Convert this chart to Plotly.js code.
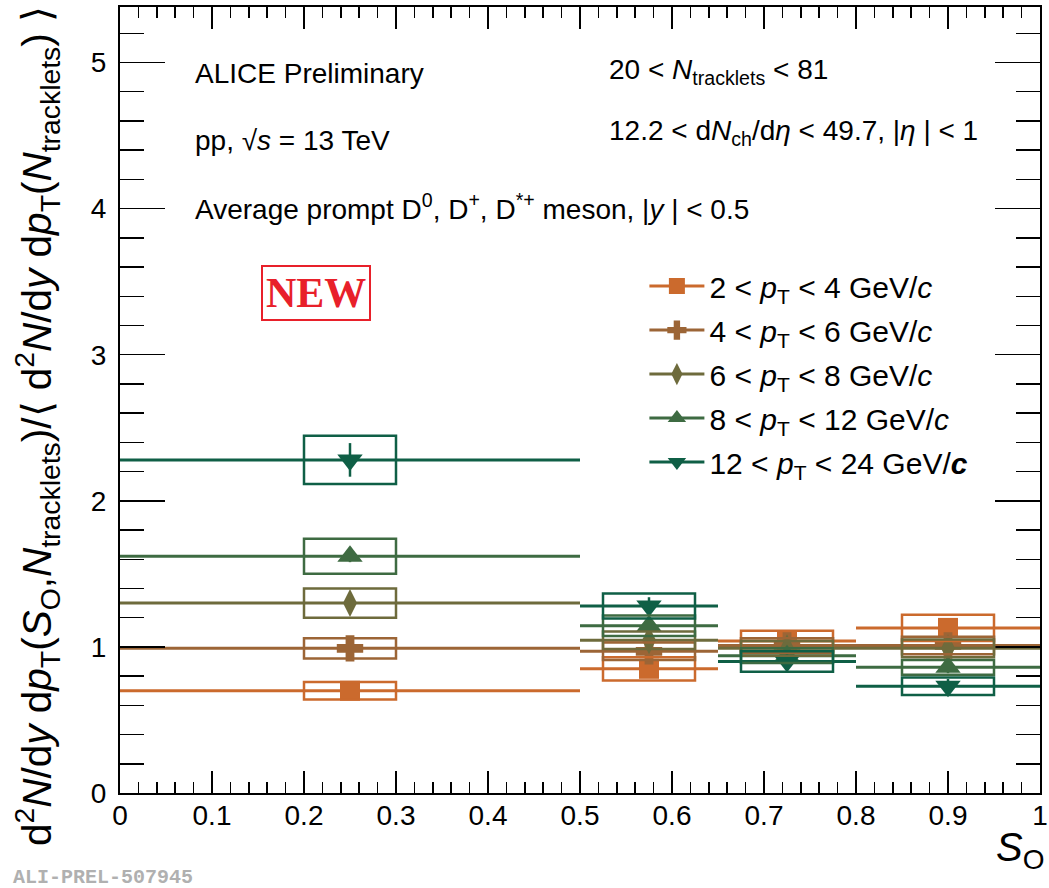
<!DOCTYPE html>
<html>
<head>
<meta charset="utf-8">
<script src="https://cdn.plot.ly/plotly-3.0.1.min.js"></script>
<style>html,body{margin:0;padding:0;background:#fff;}#chart{width:1049px;height:888px;}</style>
</head>
<body>
<div id="chart"></div>
<script>
// S_O bin centres and half widths
const soCentres = [0.25, 0.575, 0.725, 0.9];
const soHalfWidths = [0.25, 0.075, 0.075, 0.1];

// pT interval labels
const seriesNames = [
  "2 &lt; <i>p</i><sub>T</sub> &lt; 4 GeV/<i>c</i>",
  "4 &lt; <i>p</i><sub>T</sub> &lt; 6 GeV/<i>c</i>",
  "6 &lt; <i>p</i><sub>T</sub> &lt; 8 GeV/<i>c</i>",
  "8 &lt; <i>p</i><sub>T</sub> &lt; 12 GeV/<i>c</i>",
  "12 &lt; <i>p</i><sub>T</sub> &lt; 24 GeV/<b><i>c</i></b>"
];

// ratio values per pT interval
const pt2to4   = [0.70, 0.85, 1.04, 1.13];
const pt4to6   = [0.99, 0.97, 1.01, 1.01];
const pt6to8   = [1.30, 1.045, 0.99, 0.99];
const pt8to12  = [1.62, 1.145, 0.94, 0.86];
const pt12to24 = [2.28, 1.28, 0.90, 0.73];

// statistical uncertainties
const stat2to4   = [0.02, 0.02, 0.02, 0.03];
const stat4to6   = [0.02, 0.02, 0.02, 0.03];
const stat6to8   = [0.03, 0.03, 0.02, 0.03];
const stat8to12  = [0.04, 0.04, 0.03, 0.04];
const stat12to24 = [0.115, 0.06, 0.05, 0.05];

// systematic uncertainties
const sys2to4   = [0.06, 0.08, 0.07, 0.09];
const sys4to6   = [0.07, 0.06, 0.05, 0.06];
const sys6to8   = [0.10, 0.06, 0.05, 0.06];
const sys8to12  = [0.12, 0.07, 0.05, 0.05];
const sys12to24 = [0.165, 0.085, 0.07, 0.06];

const values = [pt2to4, pt4to6, pt6to8, pt8to12, pt12to24];
const stats = [stat2to4, stat4to6, stat6to8, stat8to12, stat12to24];
const syss = [sys2to4, sys4to6, sys6to8, sys8to12, sys12to24];

const colors = ["#cb6a2d", "#9c6536", "#6e6b3c", "#3e6b42", "#0f5f46"];
const symbols = ["square", "cross", "diamond-tall", "triangle-up", "triangle-down"];
const sizes = [20, 22, 20, 22, 22];
const boxHalf = 0.05;

const traces = [];
const shapes = [];
values.forEach((vals, i) => {
  traces.push({
    type: "scatter", mode: "markers",
    x: soCentres, y: vals, showlegend: false, hoverinfo: "skip",
    marker: {symbol: symbols[i], size: sizes[i], color: colors[i], line: {width: 0}},
    error_x: {type: "data", array: soHalfWidths, color: colors[i], thickness: 3, width: 0},
    error_y: {type: "data", array: stats[i], color: colors[i], thickness: 2.5, width: 0}
  });
  vals.forEach((v, j) => {
    shapes.push({
      type: "rect", xref: "x", yref: "y",
      x0: soCentres[j] - boxHalf, x1: soCentres[j] + boxHalf,
      y0: v - syss[i][j], y1: v + syss[i][j],
      line: {color: colors[i], width: 2.5}, fillcolor: "rgba(0,0,0,0)"
    });
  });
});
values.forEach((vals, i) => {
  traces.push({
    type: "scatter", mode: "lines+markers", x: [null], y: [null],
    name: seriesNames[i], legendgroup: "g" + i,
    line: {color: colors[i], width: 3},
    marker: {symbol: symbols[i], size: 16, color: colors[i]}
  });
});

const txt = (text, x, y, opts) => Object.assign({
  text: text, xref: "paper", yref: "paper", x: x, y: y,
  xanchor: "left", yanchor: "middle", showarrow: false,
  font: {family: "Liberation Sans, Arial, sans-serif", size: 28, color: "#000"}
}, opts || {});

const annotations = [
  txt("ALICE Preliminary", 0.079, 0.916),
  txt("pp, √<i>s</i> = 13 TeV", 0.079, 0.830),
  txt("Average prompt D<sup>0</sup>, D<sup>+</sup>, D<sup>*+</sup> meson, |<i>y</i> | &lt; 0.5", 0.079, 0.745),
  txt("20 &lt; <i>N</i><sub>tracklets</sub> &lt; 81", 0.529, 0.918),
  txt("12.2 &lt; d<i>N</i><sub>ch</sub>/d<i>η</i> &lt; 49.7, |<i>η</i> | &lt; 1", 0.529, 0.840),
  txt("<b>NEW</b>", 0.2135, 0.636, {xanchor: "center",
    font: {family: "Liberation Serif, Times New Roman, serif", size: 42, color: "#e8202a"},
    bordercolor: "#e8202a", borderwidth: 2, borderpad: 3}),
  txt("<i>S</i><sub>O</sub>", 1.006, -0.072, {xanchor: "right",
    font: {family: "Liberation Sans, Arial, sans-serif", size: 40, color: "#000"}}),
  txt("<b>ALI-PREL-507945</b>", -0.118, -0.107, {xanchor: "left",
    font: {family: "Liberation Mono, Courier New, monospace", size: 20, color: "#b0b0b0"}}),
  txt("d<sup>2</sup><i>N</i>/d<i>y</i> d<i>p</i><sub>T</sub>(<i>S</i><sub>O</sub>,<i>N</i><sub>tracklets</sub>)/⟨ d<sup>2</sup><i>N</i>/d<i>y</i> d<i>p</i><sub>T</sub>(<i>N</i><sub>tracklets</sub>) ⟩",
    -0.090, 1.004, {xanchor: "center", yanchor: "top", textangle: -90,
    font: {family: "Liberation Sans, Arial, sans-serif", size: 40.5, color: "#000"}})
];

const axisCommon = {
  showgrid: false, zeroline: false, showline: true, linecolor: "#000", linewidth: 2,
  mirror: "allticks", ticks: "inside", tickcolor: "#000", tickwidth: 1.5,
  tickfont: {family: "Liberation Sans, Arial, sans-serif", size: 28, color: "#000"}
};

const layout = {
  width: 1049, height: 888,
  margin: {l: 120, r: 9, t: 7, b: 95},
  paper_bgcolor: "#fff", plot_bgcolor: "#fff",
  showlegend: true,
  legend: {x: 0.57, y: 0.678, xanchor: "left", yanchor: "top", bgcolor: "rgba(0,0,0,0)",
    traceorder: "grouped", tracegroupgap: 2, itemwidth: 55,
    font: {family: "Liberation Sans, Arial, sans-serif", size: 30, color: "#000"}},
  xaxis: Object.assign({}, axisCommon, {range: [0, 1], dtick: 0.1, tick0: 0, ticklen: 22,
    ticklabelstandoff: -4,
    minor: {dtick: 0.02, ticklen: 11, tickcolor: "#000", ticks: "inside"}}),
  yaxis: Object.assign({}, axisCommon, {range: [0, 5.38], dtick: 1, tick0: 0, ticklen: 45,
    ticklabelstandoff: 6,
    minor: {dtick: 0.2, ticklen: 24, tickcolor: "#000", ticks: "inside"}}),
  shapes: shapes,
  annotations: annotations
};

Plotly.newPlot("chart", traces, layout, {staticPlot: true, displayModeBar: false});
</script>
</body>
</html>
